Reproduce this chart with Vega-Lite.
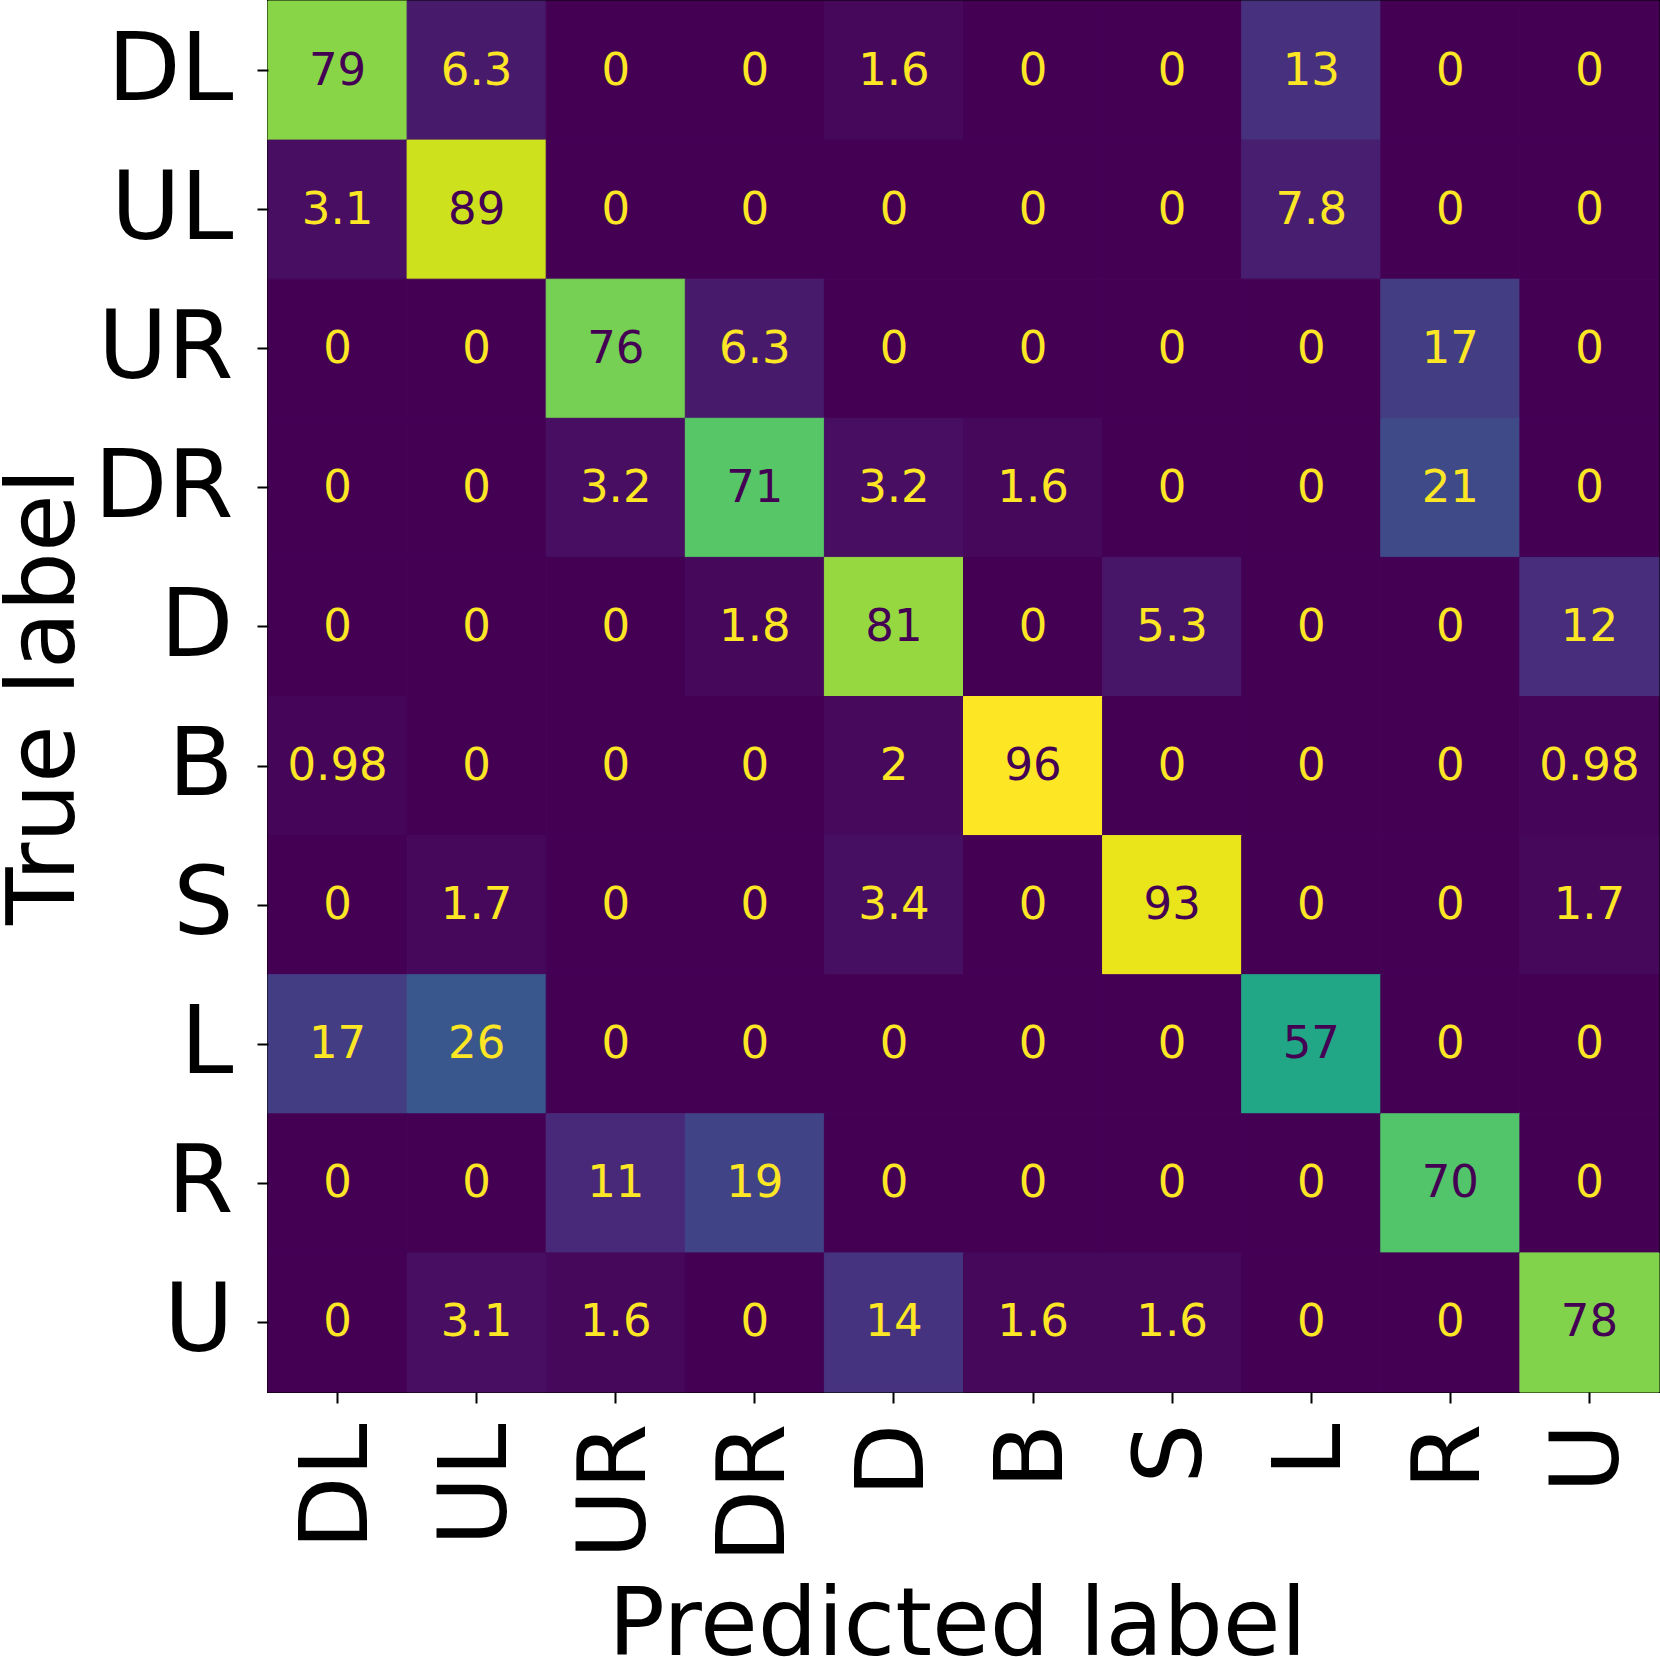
{
  "$schema": "https://vega.github.io/schema/vega-lite/v6.json",
  "autosize": "none",
  "width": 1391,
  "height": 1391,
  "padding": {"left": 268, "top": 1, "right": 1, "bottom": 265},
  "background": "white",
  "config": {
    "font": "DejaVu Sans",
    "view": {"stroke": "black", "strokeWidth": 2},
    "axis": {"domain": false, "grid": false, "ticks": true, "tickColor": "black", "tickWidth": 2, "tickSize": 11, "labelColor": "black", "titleColor": "black", "labelFont": "DejaVu Sans", "titleFont": "DejaVu Sans", "titleFontWeight": "normal"}
  },
  "data": {"values": [
    {"true": "DL", "pred": "DL", "value": 79}, {"true": "DL", "pred": "UL", "value": 6.3}, {"true": "DL", "pred": "UR", "value": 0}, {"true": "DL", "pred": "DR", "value": 0}, {"true": "DL", "pred": "D", "value": 1.6}, {"true": "DL", "pred": "B", "value": 0}, {"true": "DL", "pred": "S", "value": 0}, {"true": "DL", "pred": "L", "value": 13}, {"true": "DL", "pred": "R", "value": 0}, {"true": "DL", "pred": "U", "value": 0},
    {"true": "UL", "pred": "DL", "value": 3.1}, {"true": "UL", "pred": "UL", "value": 89}, {"true": "UL", "pred": "UR", "value": 0}, {"true": "UL", "pred": "DR", "value": 0}, {"true": "UL", "pred": "D", "value": 0}, {"true": "UL", "pred": "B", "value": 0}, {"true": "UL", "pred": "S", "value": 0}, {"true": "UL", "pred": "L", "value": 7.8}, {"true": "UL", "pred": "R", "value": 0}, {"true": "UL", "pred": "U", "value": 0},
    {"true": "UR", "pred": "DL", "value": 0}, {"true": "UR", "pred": "UL", "value": 0}, {"true": "UR", "pred": "UR", "value": 76}, {"true": "UR", "pred": "DR", "value": 6.3}, {"true": "UR", "pred": "D", "value": 0}, {"true": "UR", "pred": "B", "value": 0}, {"true": "UR", "pred": "S", "value": 0}, {"true": "UR", "pred": "L", "value": 0}, {"true": "UR", "pred": "R", "value": 17}, {"true": "UR", "pred": "U", "value": 0},
    {"true": "DR", "pred": "DL", "value": 0}, {"true": "DR", "pred": "UL", "value": 0}, {"true": "DR", "pred": "UR", "value": 3.2}, {"true": "DR", "pred": "DR", "value": 71}, {"true": "DR", "pred": "D", "value": 3.2}, {"true": "DR", "pred": "B", "value": 1.6}, {"true": "DR", "pred": "S", "value": 0}, {"true": "DR", "pred": "L", "value": 0}, {"true": "DR", "pred": "R", "value": 21}, {"true": "DR", "pred": "U", "value": 0},
    {"true": "D", "pred": "DL", "value": 0}, {"true": "D", "pred": "UL", "value": 0}, {"true": "D", "pred": "UR", "value": 0}, {"true": "D", "pred": "DR", "value": 1.8}, {"true": "D", "pred": "D", "value": 81}, {"true": "D", "pred": "B", "value": 0}, {"true": "D", "pred": "S", "value": 5.3}, {"true": "D", "pred": "L", "value": 0}, {"true": "D", "pred": "R", "value": 0}, {"true": "D", "pred": "U", "value": 12},
    {"true": "B", "pred": "DL", "value": 0.98}, {"true": "B", "pred": "UL", "value": 0}, {"true": "B", "pred": "UR", "value": 0}, {"true": "B", "pred": "DR", "value": 0}, {"true": "B", "pred": "D", "value": 2}, {"true": "B", "pred": "B", "value": 96}, {"true": "B", "pred": "S", "value": 0}, {"true": "B", "pred": "L", "value": 0}, {"true": "B", "pred": "R", "value": 0}, {"true": "B", "pred": "U", "value": 0.98},
    {"true": "S", "pred": "DL", "value": 0}, {"true": "S", "pred": "UL", "value": 1.7}, {"true": "S", "pred": "UR", "value": 0}, {"true": "S", "pred": "DR", "value": 0}, {"true": "S", "pred": "D", "value": 3.4}, {"true": "S", "pred": "B", "value": 0}, {"true": "S", "pred": "S", "value": 93}, {"true": "S", "pred": "L", "value": 0}, {"true": "S", "pred": "R", "value": 0}, {"true": "S", "pred": "U", "value": 1.7},
    {"true": "L", "pred": "DL", "value": 17}, {"true": "L", "pred": "UL", "value": 26}, {"true": "L", "pred": "UR", "value": 0}, {"true": "L", "pred": "DR", "value": 0}, {"true": "L", "pred": "D", "value": 0}, {"true": "L", "pred": "B", "value": 0}, {"true": "L", "pred": "S", "value": 0}, {"true": "L", "pred": "L", "value": 57}, {"true": "L", "pred": "R", "value": 0}, {"true": "L", "pred": "U", "value": 0},
    {"true": "R", "pred": "DL", "value": 0}, {"true": "R", "pred": "UL", "value": 0}, {"true": "R", "pred": "UR", "value": 11}, {"true": "R", "pred": "DR", "value": 19}, {"true": "R", "pred": "D", "value": 0}, {"true": "R", "pred": "B", "value": 0}, {"true": "R", "pred": "S", "value": 0}, {"true": "R", "pred": "L", "value": 0}, {"true": "R", "pred": "R", "value": 70}, {"true": "R", "pred": "U", "value": 0},
    {"true": "U", "pred": "DL", "value": 0}, {"true": "U", "pred": "UL", "value": 3.1}, {"true": "U", "pred": "UR", "value": 1.6}, {"true": "U", "pred": "DR", "value": 0}, {"true": "U", "pred": "D", "value": 14}, {"true": "U", "pred": "B", "value": 1.6}, {"true": "U", "pred": "S", "value": 1.6}, {"true": "U", "pred": "L", "value": 0}, {"true": "U", "pred": "R", "value": 0}, {"true": "U", "pred": "U", "value": 78}
  ]},
  "encoding": {
    "x": {"field": "pred", "type": "nominal", "sort": ["DL", "UL", "UR", "DR", "D", "B", "S", "L", "R", "U"],
      "scale": {"paddingInner": 0, "paddingOuter": 0},
      "axis": {"title": "Predicted label", "labelAngle": 270, "labelFontSize": 95, "labelPadding": 20, "titleFontSize": 94, "titleX": 689, "titleY": 262, "titleBaseline": "alphabetic", "titleAlign": "center"}},
    "y": {"field": "true", "type": "nominal", "sort": ["DL", "UL", "UR", "DR", "D", "B", "S", "L", "R", "U"],
      "scale": {"paddingInner": 0, "paddingOuter": 0},
      "axis": {"title": "True label", "labelFontSize": 95, "labelPadding": 24, "labelBaseline": "middle", "titleFontSize": 94, "titleAngle": 270, "titleX": -195, "titleY": 695, "titleBaseline": "alphabetic", "titleAlign": "center"}}
  },
  "layer": [
    {"mark": {"type": "rect", "strokeWidth": 1},
      "encoding": {
        "color": {"field": "value", "type": "quantitative", "scale": {"scheme": "viridis", "domain": [0, 96]}, "legend": null},
        "stroke": {"field": "value", "type": "quantitative", "scale": {"scheme": "viridis", "domain": [0, 96]}, "legend": null}
      }},
    {"mark": {"type": "text", "fontSize": 45, "font": "DejaVu Sans", "baseline": "middle", "align": "center"},
      "encoding": {
        "text": {"field": "value", "type": "quantitative", "format": ".2~g"},
        "color": {"condition": {"test": "datum.value > 48", "value": "#440154"}, "value": "#fde725"}
      }}
  ]
}
